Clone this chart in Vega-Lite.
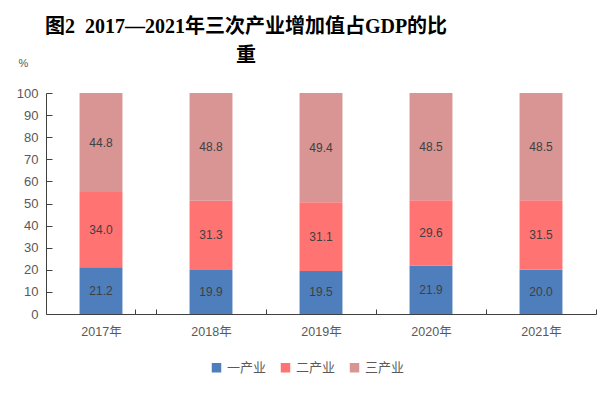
{
  "$schema": "https://vega.github.io/schema/vega-lite/v6.json",
  "width": 550,
  "height": 221,
  "autosize": {"type": "none"},
  "padding": {"left": 46, "top": 93, "right": 17, "bottom": 79},
  "background": "white",
  "title": {
    "text": ["图2\u20022017—2021年三次产业增加值占GDP的比", "重"],
    "font": "Liberation Serif, Noto Sans CJK SC",
    "fontSize": 20,
    "fontWeight": "bold",
    "color": "#000000",
    "anchor": "middle",
    "frame": "group",
    "dx": -75,
    "dy": 9,
    "lineHeight": 29,
    "offset": 0
  },
  "data": {
    "values": [
      {"year": "2017年", "ind": "一产业", "k": 1, "v": 21.2},
      {"year": "2017年", "ind": "二产业", "k": 2, "v": 34.0},
      {"year": "2017年", "ind": "三产业", "k": 3, "v": 44.8},
      {"year": "2018年", "ind": "一产业", "k": 1, "v": 19.9},
      {"year": "2018年", "ind": "二产业", "k": 2, "v": 31.3},
      {"year": "2018年", "ind": "三产业", "k": 3, "v": 48.8},
      {"year": "2019年", "ind": "一产业", "k": 1, "v": 19.5},
      {"year": "2019年", "ind": "二产业", "k": 2, "v": 31.1},
      {"year": "2019年", "ind": "三产业", "k": 3, "v": 49.4},
      {"year": "2020年", "ind": "一产业", "k": 1, "v": 21.9},
      {"year": "2020年", "ind": "二产业", "k": 2, "v": 29.6},
      {"year": "2020年", "ind": "三产业", "k": 3, "v": 48.5},
      {"year": "2021年", "ind": "一产业", "k": 1, "v": 20.0},
      {"year": "2021年", "ind": "二产业", "k": 2, "v": 31.5},
      {"year": "2021年", "ind": "三产业", "k": 3, "v": 48.5}
    ]
  },
  "encoding": {
    "x": {
      "field": "year",
      "type": "nominal",
      "scale": {"paddingInner": 0.61, "paddingOuter": 0.305},
      "axis": {
        "title": null,
        "labelAngle": 0,
        "labelFont": "Liberation Sans, Noto Sans CJK SC",
        "labelFontSize": 12.5,
        "labelColor": "#595959",
        "labelPadding": 16,
        "tickOffset": 55,
        "labelOffset": -55,
        "tickSize": -5,
        "tickColor": "#404040",
        "domainColor": "#404040",
        "tickExtra": true
      }
    },
    "y": {
      "field": "v",
      "type": "quantitative",
      "stack": "zero",
      "scale": {"domain": [0, 100], "nice": false},
      "axis": {
        "values": [0, 10, 20, 30, 40, 50, 60, 70, 80, 90, 100],
        "grid": false,
        "title": "%",
        "titleAngle": 0,
        "titleX": -28,
        "titleY": -27,
        "titleAlign": "left",
        "titleBaseline": "alphabetic",
        "titleFont": "Liberation Sans",
        "titleFontSize": 11,
        "titleFontWeight": "normal",
        "titleColor": "#595959",
        "labelFont": "Liberation Sans",
        "labelFontSize": 13,
        "labelColor": "#595959",
        "labelPadding": 14,
        "tickSize": -6,
        "tickColor": "#404040",
        "domainColor": "#404040"
      }
    },
    "order": {"field": "k", "type": "quantitative"}
  },
  "layer": [
    {
      "mark": {"type": "bar"},
      "encoding": {
        "color": {
          "field": "ind",
          "type": "nominal",
          "sort": ["一产业", "二产业", "三产业"],
          "scale": {
            "domain": ["一产业", "二产业", "三产业"],
            "range": ["#4E7EBB", "#FF7373", "#D99594"]
          },
          "legend": {
            "title": null,
            "orient": "none",
            "legendX": 164,
            "legendY": 268,
            "direction": "horizontal",
            "symbolType": "square",
            "symbolSize": 90,
            "symbolStrokeWidth": 0,
            "labelFont": "Noto Sans CJK SC",
            "labelFontSize": 13,
            "labelColor": "#595959",
            "labelOffset": 4,
            "columnPadding": 12
          }
        }
      }
    },
    {
      "mark": {
        "type": "text",
        "font": "Liberation Sans",
        "fontSize": 12,
        "color": "#404040",
        "baseline": "middle"
      },
      "encoding": {
        "y": {"field": "v", "type": "quantitative", "stack": "zero", "bandPosition": 0.5},
        "text": {"field": "v", "type": "quantitative", "format": ".1f"}
      }
    }
  ],
  "config": {
    "view": {"stroke": null}
  }
}
